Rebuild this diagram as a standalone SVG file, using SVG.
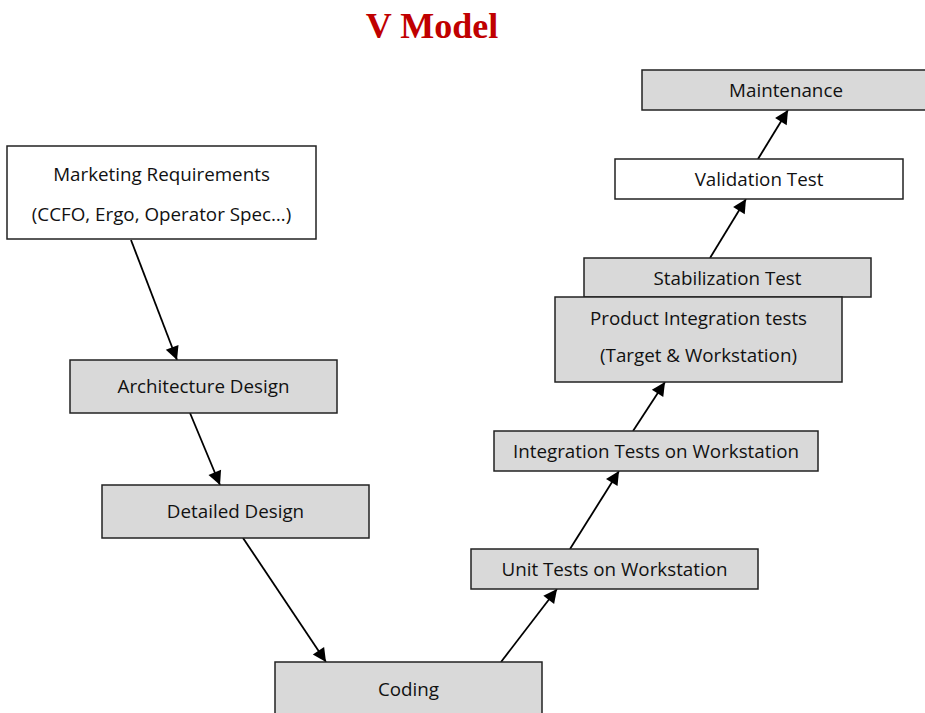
<svg xmlns="http://www.w3.org/2000/svg" width="925" height="713" viewBox="0 0 925 713">
<style>
.box{stroke:#222;stroke-width:1.5}
.g{fill:#d9d9d9}
.w{fill:#fff}
.t{font-family:"Open Sans","Noto Sans",sans-serif;font-size:18.8px;fill:#111;text-anchor:middle}
.c{stroke:#000;stroke-width:1.8;fill:none;marker-end:url(#ah)}
</style>
<defs>
<marker id="ah" viewBox="0 0 10 10" refX="10" refY="5" markerWidth="8" markerHeight="8" markerUnits="userSpaceOnUse" orient="auto" style="overflow:visible">
<path d="M0,0 L10,5 L0,10 z" fill="#000" transform="scale(1.7) translate(-4.1,-2.06)"/>
</marker>
</defs>
<rect width="925" height="713" fill="#fff"/>
<text x="432" y="38" font-family="'Liberation Serif',serif" font-weight="bold" font-size="36" fill="#c00000" text-anchor="middle">V Model</text>
<g id="connectors">
<line class="c" x1="131" y1="240" x2="177" y2="360"/>
<line class="c" x1="190" y1="413" x2="220" y2="485"/>
<line class="c" x1="243" y1="538" x2="326" y2="662"/>
<line class="c" x1="501" y1="662" x2="557" y2="589"/>
<line class="c" x1="570" y1="549" x2="619" y2="471"/>
<line class="c" x1="633" y1="431" x2="665" y2="382"/>
<line class="c" x1="710" y1="258" x2="746" y2="199"/>
<line class="c" x1="758" y1="159" x2="788" y2="110"/>
</g>
<g id="marketing"><rect class="box w" x="7" y="146" width="309" height="93"/><text class="t" x="161.5" y="181">Marketing Requirements</text><text class="t" x="161.5" y="221">(CCFO, Ergo, Operator Spec…)</text></g>
<g id="architecture"><rect class="box g" x="70" y="360" width="267" height="53"/><text class="t" x="203.5" y="393">Architecture Design</text></g>
<g id="detailed"><rect class="box g" x="102" y="485" width="267" height="53"/><text class="t" x="235.5" y="518">Detailed Design</text></g>
<g id="coding"><rect class="box g" x="275" y="662" width="267" height="60"/><text class="t" x="408.5" y="696">Coding</text></g>
<g id="unit"><rect class="box g" x="471" y="549" width="287" height="40"/><text class="t" x="614.5" y="576">Unit Tests on Workstation</text></g>
<g id="integration"><rect class="box g" x="494" y="431" width="324" height="40"/><text class="t" x="656" y="458">Integration Tests on Workstation</text></g>
<g id="stabilization"><rect class="box g" x="584" y="258" width="287" height="39"/><text class="t" x="727.5" y="285">Stabilization Test</text></g>
<g id="product"><rect class="box g" x="555" y="297" width="287" height="85"/><text class="t" x="698.5" y="325">Product Integration tests</text><text class="t" x="698.5" y="362">(Target &amp; Workstation)</text></g>
<g id="validation"><rect class="box w" x="615" y="159" width="288" height="40"/><text class="t" x="759" y="186">Validation Test</text></g>
<g id="maintenance"><rect class="box g" x="642" y="70" width="290" height="40"/><text class="t" x="786" y="97">Maintenance</text></g>
</svg>
